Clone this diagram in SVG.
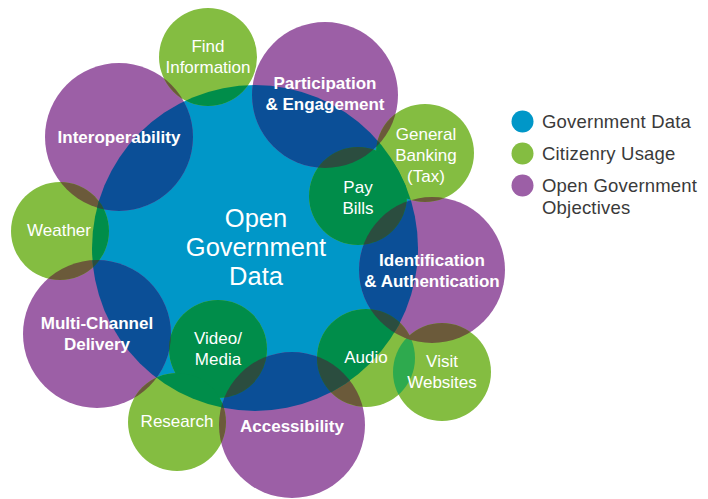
<svg xmlns="http://www.w3.org/2000/svg" xmlns:xlink="http://www.w3.org/1999/xlink" width="708" height="499" viewBox="0 0 708 499">
<style>
  text { font-family: "Liberation Sans", Arial, sans-serif; fill: #ffffff; text-anchor: middle; }
  .g { font-size: 17px; }
  .p { font-size: 17px; font-weight: bold; }
  .big { font-size: 25.5px; }
  .leg { font-size: 18.5px; fill: #3a3a3a; text-anchor: start; letter-spacing: 0.2px; }
</style>
<defs>
  <circle id="c-gov" cx="255" cy="248" r="163"/>
  <g id="purples">
    <circle id="c-p1" cx="325" cy="95" r="73"/>
    <circle id="c-p2" cx="119" cy="137" r="74"/>
    <circle id="c-p3" cx="97" cy="334" r="74"/>
    <circle id="c-p4" cx="292" cy="425" r="73"/>
    <circle id="c-p5" cx="432" cy="270" r="73"/>
  </g>
  <g id="greens">
    <circle id="c-g1" cx="208" cy="57" r="49"/>
    <circle id="c-g2" cx="60" cy="231" r="49"/>
    <circle id="c-g3" cx="425" cy="153" r="49"/>
    <circle id="c-g4" cx="358" cy="196" r="49"/>
    <circle id="c-g5" cx="218" cy="349" r="49"/>
    <circle id="c-g6" cx="177" cy="422" r="49"/>
    <circle id="c-g7" cx="366" cy="358" r="49"/>
    <circle id="c-g8" cx="442" cy="372" r="49"/>
  </g>
  <clipPath id="cl-gov"><circle cx="255" cy="248" r="163"/></clipPath>
  <clipPath id="cl-p1"><circle cx="325" cy="95" r="73"/></clipPath>
  <clipPath id="cl-p2"><circle cx="119" cy="137" r="74"/></clipPath>
  <clipPath id="cl-p3"><circle cx="97" cy="334" r="74"/></clipPath>
  <clipPath id="cl-p4"><circle cx="292" cy="425" r="73"/></clipPath>
  <clipPath id="cl-p5"><circle cx="432" cy="270" r="73"/></clipPath>
  <clipPath id="cl-g7"><circle cx="366" cy="358" r="49"/></clipPath>
</defs>

<g id="fills">
  <use xlink:href="#c-gov" href="#c-gov" fill="#0097C8"/>
  <use xlink:href="#purples" href="#purples" fill="#9C5FA6"/>
  <use xlink:href="#greens" href="#greens" fill="#84BD41"/>
  <g clip-path="url(#cl-g7)"><use xlink:href="#c-g8" href="#c-g8" fill="#2EAA4E"/></g>
  <g clip-path="url(#cl-p1)"><use xlink:href="#greens" href="#greens" fill="#6B5A3A"/></g>
  <g clip-path="url(#cl-p2)"><use xlink:href="#greens" href="#greens" fill="#6B5A3A"/></g>
  <g clip-path="url(#cl-p3)"><use xlink:href="#greens" href="#greens" fill="#6B5A3A"/></g>
  <g clip-path="url(#cl-p4)"><use xlink:href="#greens" href="#greens" fill="#6B5A3A"/></g>
  <g clip-path="url(#cl-p5)"><use xlink:href="#greens" href="#greens" fill="#6B5A3A"/></g>
  <g clip-path="url(#cl-gov)">
    <use xlink:href="#purples" href="#purples" fill="#0B4F97"/>
    <use xlink:href="#greens" href="#greens" fill="#008D4A"/>
    <g clip-path="url(#cl-p1)"><use xlink:href="#greens" href="#greens" fill="#2B4D3F"/></g>
    <g clip-path="url(#cl-p2)"><use xlink:href="#greens" href="#greens" fill="#2B4D3F"/></g>
    <g clip-path="url(#cl-p3)"><use xlink:href="#greens" href="#greens" fill="#2B4D3F"/></g>
    <g clip-path="url(#cl-p4)"><use xlink:href="#greens" href="#greens" fill="#2B4D3F"/></g>
    <g clip-path="url(#cl-p5)"><use xlink:href="#greens" href="#greens" fill="#2B4D3F"/></g>
  </g>
</g>

<g id="connectors"></g>

<g id="node-open-government-data">
  <text class="big" x="256" y="227">Open</text>
  <text class="big" x="256" y="256">Government</text>
  <text class="big" x="256" y="285">Data</text>
</g>
<g id="node-participation"><text class="p" x="325" y="89">Participation</text><text class="p" x="325" y="110">&amp; Engagement</text></g>
<g id="node-interoperability"><text class="p" x="119" y="143">Interoperability</text></g>
<g id="node-multi-channel"><text class="p" x="97" y="329">Multi-Channel</text><text class="p" x="97" y="350">Delivery</text></g>
<g id="node-accessibility"><text class="p" x="292" y="432">Accessibility</text></g>
<g id="node-identification"><text class="p" x="432" y="266">Identification</text><text class="p" x="432" y="287">&amp; Authentication</text></g>

<g id="node-find-information"><text class="g" x="208" y="52">Find</text><text class="g" x="208" y="73">Information</text></g>
<g id="node-weather"><text class="g" x="59" y="236">Weather</text></g>
<g id="node-general-banking"><text class="g" x="426" y="140">General</text><text class="g" x="426" y="161">Banking</text><text class="g" x="426" y="182">(Tax)</text></g>
<g id="node-pay-bills"><text class="g" x="358" y="193">Pay</text><text class="g" x="358" y="214">Bills</text></g>
<g id="node-video-media"><text class="g" x="218" y="344">Video/</text><text class="g" x="218" y="365">Media</text></g>
<g id="node-research"><text class="g" x="177" y="427">Research</text></g>
<g id="node-audio"><text class="g" x="366" y="363">Audio</text></g>
<g id="node-visit-websites"><text class="g" x="442" y="367">Visit</text><text class="g" x="442" y="388">Websites</text></g>

<g id="legend">
  <circle cx="522.5" cy="121.5" r="11" fill="#0097C8"/>
  <circle cx="522.5" cy="153.5" r="11" fill="#84BD41"/>
  <circle cx="522.5" cy="185.5" r="11" fill="#9C5FA6"/>
  <text class="leg" x="542" y="128">Government Data</text>
  <text class="leg" x="542" y="160">Citizenry Usage</text>
  <text class="leg" x="542" y="192">Open Government</text>
  <text class="leg" x="542" y="214">Objectives</text>
</g>
</svg>
